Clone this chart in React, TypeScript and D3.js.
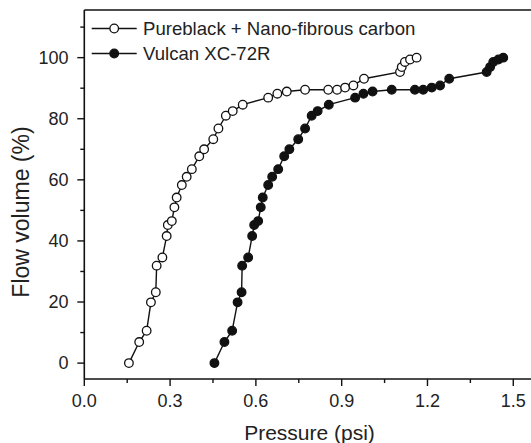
import React from "react";
import * as d3 from "d3";

const flowVolume = [0, 6.9, 10.6, 19.9, 23.2, 31.9, 34.6, 41.6, 45.2, 46.5, 51.0, 54.2, 58.3, 61.0, 63.5, 67.7, 70.0, 73.3, 76.8, 81.0, 82.5, 84.6, 86.9, 88.2, 88.9, 89.5, 89.5, 89.5, 90.2, 90.9, 93.1, 95.3, 96.9, 98.6, 99.4, 100];
const pressureNano = [0.156, 0.192, 0.218, 0.233, 0.250, 0.253, 0.273, 0.288, 0.292, 0.306, 0.315, 0.323, 0.341, 0.358, 0.376, 0.402, 0.419, 0.451, 0.469, 0.495, 0.519, 0.554, 0.643, 0.675, 0.708, 0.772, 0.853, 0.884, 0.912, 0.941, 0.978, 1.104, 1.110, 1.121, 1.139, 1.162];
const pressureVulcan = [0.455, 0.490, 0.517, 0.536, 0.550, 0.552, 0.573, 0.587, 0.594, 0.608, 0.617, 0.624, 0.643, 0.657, 0.678, 0.699, 0.717, 0.748, 0.772, 0.795, 0.816, 0.855, 0.947, 0.976, 1.008, 1.075, 1.156, 1.185, 1.215, 1.244, 1.276, 1.407, 1.419, 1.430, 1.448, 1.465];

const seriesNames = ["Pureblack + Nano-fibrous carbon", "Vulcan XC-72R"];
const xMajorTicks = [0, 0.3, 0.6, 0.9, 1.2, 1.5];
const xMinorTicks = [0.15, 0.45, 0.75, 1.05, 1.35];
const yMajorTicks = [0, 20, 40, 60, 80, 100];
const yMinorTicks = [10, 30, 50, 70, 90, 110];

const W = 531, H = 443;
const FONT = "'Liberation Sans', Arial, Helvetica, sans-serif";
const INK = "#111";

export default function App() {
  const x = d3.scaleLinear().domain([0, 1.562]).range([84.3, 531]);
  const y = d3.scaleLinear().domain([-5.2, 115.6]).range([379, 10]);
  const line = d3.line<[number, number]>().x(d => x(d[0])).y(d => y(d[1]));

  const nano: [number, number][] = pressureNano.map((p, i) => [p, flowVolume[i]]);
  const vulcan: [number, number][] = pressureVulcan.map((p, i) => [p, flowVolume[i]]);

  const x0 = x(0), yb = y(-5.2), yt = y(115.6);
  const r = 4.3;

  return (
    <svg width={W} height={H} style={{ position: "absolute", left: 0, top: 0, background: "#fff" }} fontFamily={FONT}>
      {/* axes frame */}
      <line x1={x0} x2={W} y1={yb} y2={yb} stroke={INK} strokeWidth={1.6} />
      <line x1={x0} x2={W} y1={yt} y2={yt} stroke={INK} strokeWidth={1.6} />
      <line x1={x0} x2={x0} y1={yt} y2={yb} stroke={INK} strokeWidth={1.6} />

      {xMajorTicks.map(t => (
        <g key={"xm" + t}>
          <line x1={x(t)} x2={x(t)} y1={yb} y2={yb + 7} stroke={INK} strokeWidth={1.4} />
          <text x={x(t)} y={406.5} textAnchor="middle" fontSize={18} fill="#222">{t.toFixed(1)}</text>
        </g>
      ))}
      {xMinorTicks.map(t => (
        <line key={"xn" + t} x1={x(t)} x2={x(t)} y1={yb} y2={yb + 4} stroke={INK} strokeWidth={1.4} />
      ))}
      {yMajorTicks.map(t => (
        <g key={"ym" + t}>
          <line x1={x0 - 7} x2={x0} y1={y(t)} y2={y(t)} stroke={INK} strokeWidth={1.4} />
          <text x={68.5} y={y(t)} dy="0.35em" textAnchor="end" fontSize={18} fill="#222">{t}</text>
        </g>
      ))}
      {yMinorTicks.map(t => (
        <line key={"yn" + t} x1={x0 - 4} x2={x0} y1={y(t)} y2={y(t)} stroke={INK} strokeWidth={1.4} />
      ))}

      <text x={309.5} y={440} textAnchor="middle" fontSize={21} fill="#222">Pressure (psi)</text>
      <text transform={`translate(28.5,212) rotate(-90)`} textAnchor="middle" fontSize={23} fill="#222">Flow volume (%)</text>

      {/* series */}
      <path d={line(nano) || ""} fill="none" stroke={INK} strokeWidth={1.4} />
      <path d={line(vulcan) || ""} fill="none" stroke={INK} strokeWidth={1.4} />
      {nano.map((d, i) => (
        <circle key={"n" + i} cx={x(d[0])} cy={y(d[1])} r={r} fill="#fff" stroke={INK} strokeWidth={1.3} />
      ))}
      {vulcan.map((d, i) => (
        <circle key={"v" + i} cx={x(d[0])} cy={y(d[1])} r={r} fill={INK} stroke={INK} strokeWidth={1.3} />
      ))}

      {/* legend */}
      {seriesNames.map((name, i) => {
        const ly = 28.5 + i * 25;
        return (
          <g key={"lg" + i}>
            <line x1={91.7} x2={136.7} y1={ly} y2={ly} stroke={INK} strokeWidth={1.4} />
            <circle cx={114.2} cy={ly} r={r} fill={i === 0 ? "#fff" : INK} stroke={INK} strokeWidth={1.3} />
            <text x={143} y={ly} dy="0.35em" fontSize={18.6} fill="#222">{name}</text>
          </g>
        );
      })}
    </svg>
  );
}
